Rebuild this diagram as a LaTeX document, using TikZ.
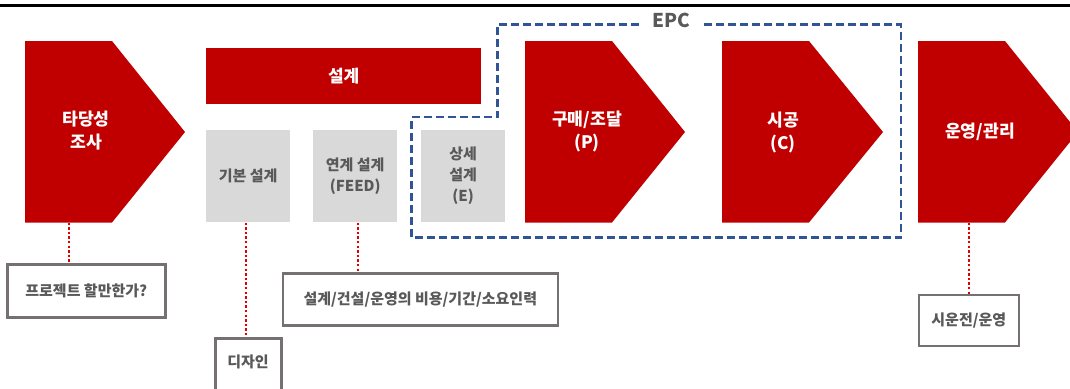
\documentclass[tikz,border=0pt]{standalone}
\usepackage{fontspec}
\setmainfont{Noto Sans CJK KR}
\definecolor{epcred}{HTML}{C00000}
\definecolor{boxgray}{HTML}{D9D9D9}
\definecolor{txtgray}{HTML}{595959}
\definecolor{edgegray}{HTML}{767171}
\definecolor{epcblue}{HTML}{2F5597}
\definecolor{dotred}{HTML}{E00000}
\begin{document}
\begin{tikzpicture}[x=1pt,y=-1pt,
  chev/.style={fill=epcred},
  redtext/.style={text=white,align=center,font=\fontsize{17.2}{23}\selectfont\bfseries},
  redbar/.style={fill=epcred,minimum width=275pt,minimum height=56pt,inner sep=0pt,
     text=white,font=\fontsize{17}{20}\selectfont\bfseries},
  graybox/.style={fill=boxgray,minimum width=84pt,minimum height=92pt,inner sep=0pt,
     text=txtgray,align=center,font=\fontsize{15}{21}\selectfont\bfseries},
  notebox/.style={draw=edgegray,line width=2.5pt,inner sep=0pt,fill=white,
     text=txtgray,font=\fontsize{15}{18}\selectfont\bfseries},
  notetext/.style={text=txtgray,font=\fontsize{15}{18}\selectfont\bfseries},
  dotline/.style={draw=dotred,line width=2.4pt,dash pattern=on 2.4pt off 2.2pt},
  epcline/.style={draw=epcblue,line width=2.5pt,dash pattern=on 8pt off 4pt}
]
\useasboundingbox (0,0) rectangle (1070,388);
\draw[line width=2.5pt] (0,5.5) -- (1070,5.5);

% chevrons
\fill[chev] (25,41) -- (112,41) -- (185,132) -- (112,222.5) -- (25,222.5) -- cycle;
\fill[chev] (525,41) -- (612,41) -- (685,132) -- (612,222.5) -- (525,222.5) -- cycle;
\fill[chev] (722,41) -- (809,41) -- (883,132) -- (809,222.5) -- (722,222.5) -- cycle;
\fill[chev] (918,41) -- (1005,41) -- (1078,132) -- (1005,222.5) -- (918,222.5) -- cycle;

\node[redtext] (feas) at (86,131) {타당성\\조사};
\node[redtext] (proc) at (587,132) {구매/조달\\(P)};
\node[redtext] (cons) at (783,132) {시공\\(C)};
\node[redtext] (oper) at (980,132) {운영/관리};

\coordinate (feasb) at (69,222.5);
\coordinate (basicb) at (246,222.5);
\coordinate (feedb) at (358,222.5);
\coordinate (operb) at (969,222.5);

% design
\node[redbar,anchor=north west] (design) at (206,48) {설계};
\node[graybox,anchor=north west] (basic) at (206,130) {기본 설계};
\node[graybox,anchor=north west] (feed) at (313,130) {연계 설계\\(FEED)};
\node[graybox,anchor=north west] (detail) at (421,130) {상세\\설계\\(E)};

% EPC outline
\draw[epcline] (639,24.5) -- (497.5,24.5) -- (497.5,117) -- (411.5,117) -- (411.5,237.5)
   -- (901,237.5) -- (901,24.5) -- (702,24.5);
\node[text=txtgray,font=\fontsize{19}{22}\selectfont\bfseries] (epc) at (671,20) {EPC};

% note boxes
\node[notebox,minimum width=158pt,minimum height=53pt] (q) at (86.3,291.2) {프로젝트 할만한가?};
\node[notebox,minimum width=275pt,minimum height=52pt] (cost) at (420.3,299.5) {설계/건설/운영의 비용/기간/소요인력};
\node[notebox,minimum width=66pt,minimum height=80pt,anchor=north] (dz) at (248.3,337.2) {};
\node[notetext] (dzt) at (248,361.5) {디자인};
\node[notebox,minimum width=100pt,minimum height=51pt] (trial) at (968.8,320.7) {시운전/운영};

% dotted connectors
\draw[dotline] (feasb) -- (feasb |- q.north);
\draw[dotline] (basicb) -- (basicb |- dz.north);
\draw[dotline] (feedb) -- (feedb |- cost.north);
\draw[dotline] (operb) -- (operb |- trial.north);
\end{tikzpicture}
\end{document}
